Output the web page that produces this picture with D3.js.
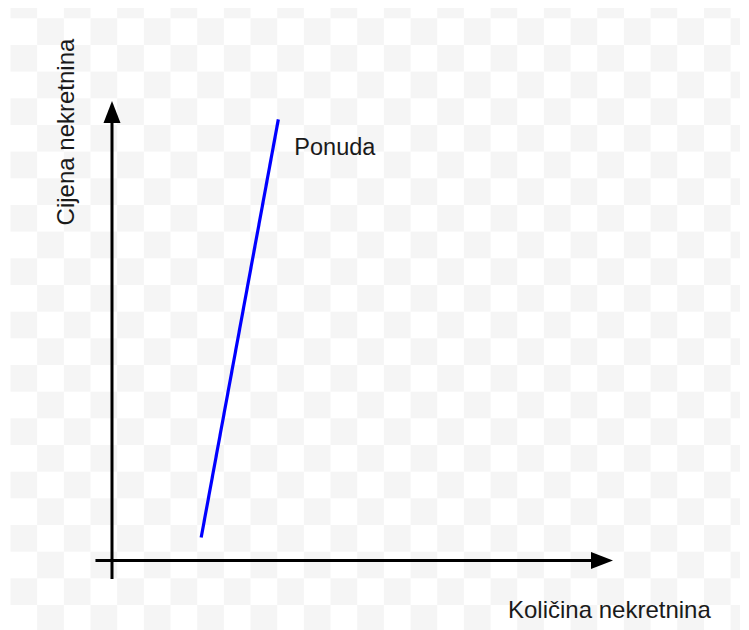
<!DOCTYPE html>
<html>
<head>
<meta charset="utf-8">
<script src="https://cdn.jsdelivr.net/npm/d3@7"></script>
<style>
  html, body { margin: 0; padding: 0; background: #fff; }
  svg { display: block; }
</style>
</head>
<body>
<div id="chart"></div>
<script>
// data: a schematic supply curve, no ticks
var xLabel = "Količina nekretnina";
var yLabel = "Cijena nekretnina";
var seriesName = "Ponuda";
var supplyQty = [1.78, 3.32];
var supplyPrice = [0.5, 9.6];

var width = 749, height = 630;

var svg = d3.select("#chart").append("svg")
  .attr("width", width).attr("height", height);

// faint checkerboard behind the drawing
var cell = 26.67, gx0 = 10.5, gy0 = -8.4;
var cells = [];
for (var r = 0; r * cell + gy0 < height; r++) {
  for (var c = 0; c * cell + gx0 < 740; c++) {
    if ((r + c) % 2 == 0) cells.push({r: r, c: c});
  }
}
svg.append("clipPath").attr("id", "bgclip")
  .append("rect").attr("x", 10).attr("y", 8).attr("width", 730).attr("height", height - 8);
svg.append("g").attr("clip-path", "url(#bgclip)")
  .selectAll("rect").data(cells).enter().append("rect")
  .attr("x", function(d){ return gx0 + d.c * cell; })
  .attr("y", function(d){ return gy0 + d.r * cell; })
  .attr("width", cell).attr("height", cell)
  .attr("fill", "#f5f5f5");

var x = d3.scaleLinear().domain([0, 10]).range([112, 613]);
var y = d3.scaleLinear().domain([0, 10]).range([560.5, 101]);

var ax = svg.append("g").attr("stroke", "#000").attr("fill", "#000");

// y axis with arrow
ax.append("line")
  .attr("x1", x(0)).attr("x2", x(0))
  .attr("y1", y(-0.4)).attr("y2", y(9.6))
  .attr("stroke-width", 3);
ax.append("path")
  .attr("stroke", "none")
  .attr("d", "M" + x(0) + "," + y(10) + "L" + (x(0) - 8.5) + "," + (y(10) + 22) +
             "L" + (x(0) + 8.5) + "," + (y(10) + 22) + "Z");

// x axis with arrow
ax.append("line")
  .attr("x1", x(-0.33)).attr("x2", x(9.6))
  .attr("y1", y(0)).attr("y2", y(0))
  .attr("stroke-width", 3);
ax.append("path")
  .attr("stroke", "none")
  .attr("d", "M" + x(10) + "," + y(0) + "L" + (x(10) - 22) + "," + (y(0) - 8.5) +
             "L" + (x(10) - 22) + "," + (y(0) + 8.5) + "Z");

// supply line
var pts = supplyQty.map(function(q, i){ return [q, supplyPrice[i]]; });
svg.append("path")
  .datum(pts)
  .attr("fill", "none")
  .attr("stroke", "#0000ff")
  .attr("stroke-width", 3.2)
  .attr("d", d3.line().x(function(d){ return x(d[0]); }).y(function(d){ return y(d[1]); }));

var font = "'Liberation Sans', Arial, sans-serif";

svg.append("text")
  .attr("x", x(supplyQty[1]) + 16)
  .attr("y", 155)
  .attr("font-family", font).attr("font-size", 23.5)
  .attr("fill", "#1a1a1a")
  .text(seriesName);

svg.append("text")
  .attr("x", 508).attr("y", 618)
  .attr("font-family", font).attr("font-size", 24)
  .attr("fill", "#1a1a1a")
  .text(xLabel);

svg.append("text")
  .attr("transform", "translate(73.5,132) rotate(-90)")
  .attr("text-anchor", "middle")
  .attr("font-family", font).attr("font-size", 24)
  .attr("fill", "#1a1a1a")
  .text(yLabel);
</script>
</body>
</html>
